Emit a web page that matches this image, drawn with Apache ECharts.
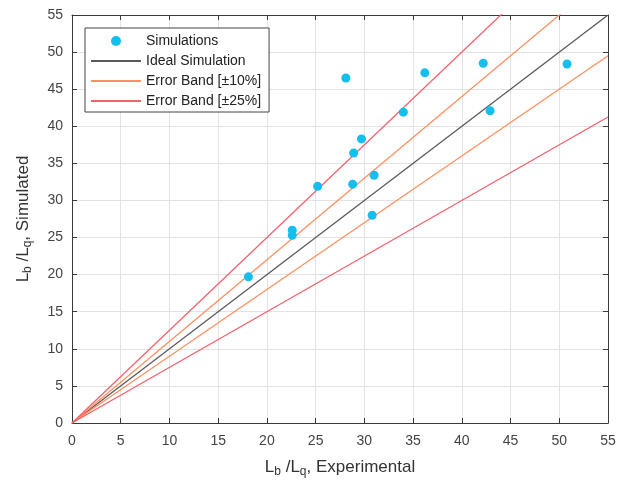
<!DOCTYPE html>
<html>
<head>
<meta charset="utf-8">
<script src="https://cdn.jsdelivr.net/npm/echarts@6/dist/echarts.min.js"></script>
<style>
  html, body { margin: 0; padding: 0; background: #fff; }
  #main { width: 630px; height: 480px; }
</style>
</head>
<body>
<div id="main"></div>
<script>
// measured points (experimental vs simulated)
const expVals = [18.1, 22.6, 22.6, 25.2, 28.1, 28.9, 29.7, 28.8, 31.0, 30.8, 34.0, 36.2, 42.2, 42.9, 50.8];
const simVals = [19.7, 26.0, 25.3, 31.9, 46.5, 36.4, 38.3, 32.2, 33.4, 28.0, 41.9, 47.2, 48.5, 42.1, 48.4];

// reference lines y = k * x
const bandNames = ["Ideal Simulation", "Error Band [±10%]", "Error Band [±10%]", "Error Band [±25%]", "Error Band [±25%]"];
const bandFactors = [1, 1.1, 0.9, 1.25, 0.75];
const bandColors = ["#5a5a5a", "#ff9060", "#ff9060", "#f4606c", "#f4606c"];

const axisMax = 55;
const tickStep = 5;

const font = "Liberation Sans";

const scatterData = expVals.map((x, i) => [x, simVals[i]]);

const lineSeries = bandFactors.map((k, i) => ({
  name: bandNames[i],
  type: "line",
  data: [[0, 0], [axisMax, axisMax * k]],
  symbol: "none",
  clip: true,
  lineStyle: { color: bandColors[i], width: 1.3 },
  itemStyle: { color: bandColors[i] },
  z: 2,
  animation: false
}));

const nameRich = {
  n: { fontFamily: font, fontSize: 17, color: "#333" },
  s: { fontFamily: font, fontSize: 12, color: "#333", padding: [10, 0, 0, 0] }
};

function boxAxis(pos) {
  return {
    type: "value",
    position: pos,
    min: 0, max: axisMax, interval: tickStep,
    axisLine: { show: true, onZero: false, lineStyle: { color: "#3a3a3a", width: 1 } },
    axisTick: { show: true, inside: true, length: 5, lineStyle: { color: "#3a3a3a" } },
    axisLabel: { show: false },
    splitLine: { show: false }
  };
}

const hideDot = { opacity: 0 };

const options = {
  animation: false,
  backgroundColor: "#fff",
  grid: { left: 72, right: 22, top: 15, bottom: 57, containLabel: false, outerBoundsMode: "none" },
  legend: {
    orient: "vertical",
    left: 85,
    top: 28,
    padding: [4, 8, 2, 5],
    itemGap: 2,
    itemWidth: 50,
    itemHeight: 10,
    borderColor: "#444",
    borderWidth: 1,
    backgroundColor: "#fff",
    data: [
      { name: "Simulations", icon: "circle" },
      { name: "Ideal Simulation", itemStyle: hideDot },
      { name: "Error Band [±10%]", itemStyle: hideDot },
      { name: "Error Band [±25%]", itemStyle: hideDot }
    ],
    textStyle: { fontFamily: font, fontSize: 14, color: "#222", lineHeight: 18 }
  },
  xAxis: [
    {
      type: "value",
      min: 0, max: axisMax, interval: tickStep,
      name: "{n|L}{s|b}{n| /L}{s|q}{n|, Experimental}",
      nameLocation: "middle",
      nameGap: 33,
      nameTextStyle: { rich: nameRich },
      axisLine: { show: true, onZero: false, lineStyle: { color: "#3a3a3a", width: 1 } },
      axisTick: { show: true, inside: true, length: 5, lineStyle: { color: "#3a3a3a" } },
      axisLabel: { fontFamily: font, fontSize: 14, color: "#444", margin: 11 },
      splitLine: { show: true, lineStyle: { color: "#e3e3e3", width: 1 } }
    },
    boxAxis("top")
  ],
  yAxis: [
    {
      type: "value",
      min: 0, max: axisMax, interval: tickStep,
      name: "{n|L}{s|b}{n| /L}{s|q}{n|, Simulated}",
      nameLocation: "middle",
      nameGap: 38,
      nameTextStyle: { rich: nameRich },
      axisLine: { show: true, onZero: false, lineStyle: { color: "#3a3a3a", width: 1 } },
      axisTick: { show: true, inside: true, length: 5, lineStyle: { color: "#3a3a3a" } },
      axisLabel: { fontFamily: font, fontSize: 14, color: "#444", margin: 9 },
      splitLine: { show: true, lineStyle: { color: "#e3e3e3", width: 1 } }
    },
    boxAxis("right")
  ],
  series: [
    {
      name: "Simulations",
      type: "scatter",
      data: scatterData,
      symbolSize: 9,
      itemStyle: { color: "#14bff0", opacity: 1 },
      z: 3
    }
  ].concat(lineSeries)
};

const myChart = echarts.init(document.getElementById("main"), null, { renderer: "canvas" });
myChart.setOption(options);
</script>
</body>
</html>
